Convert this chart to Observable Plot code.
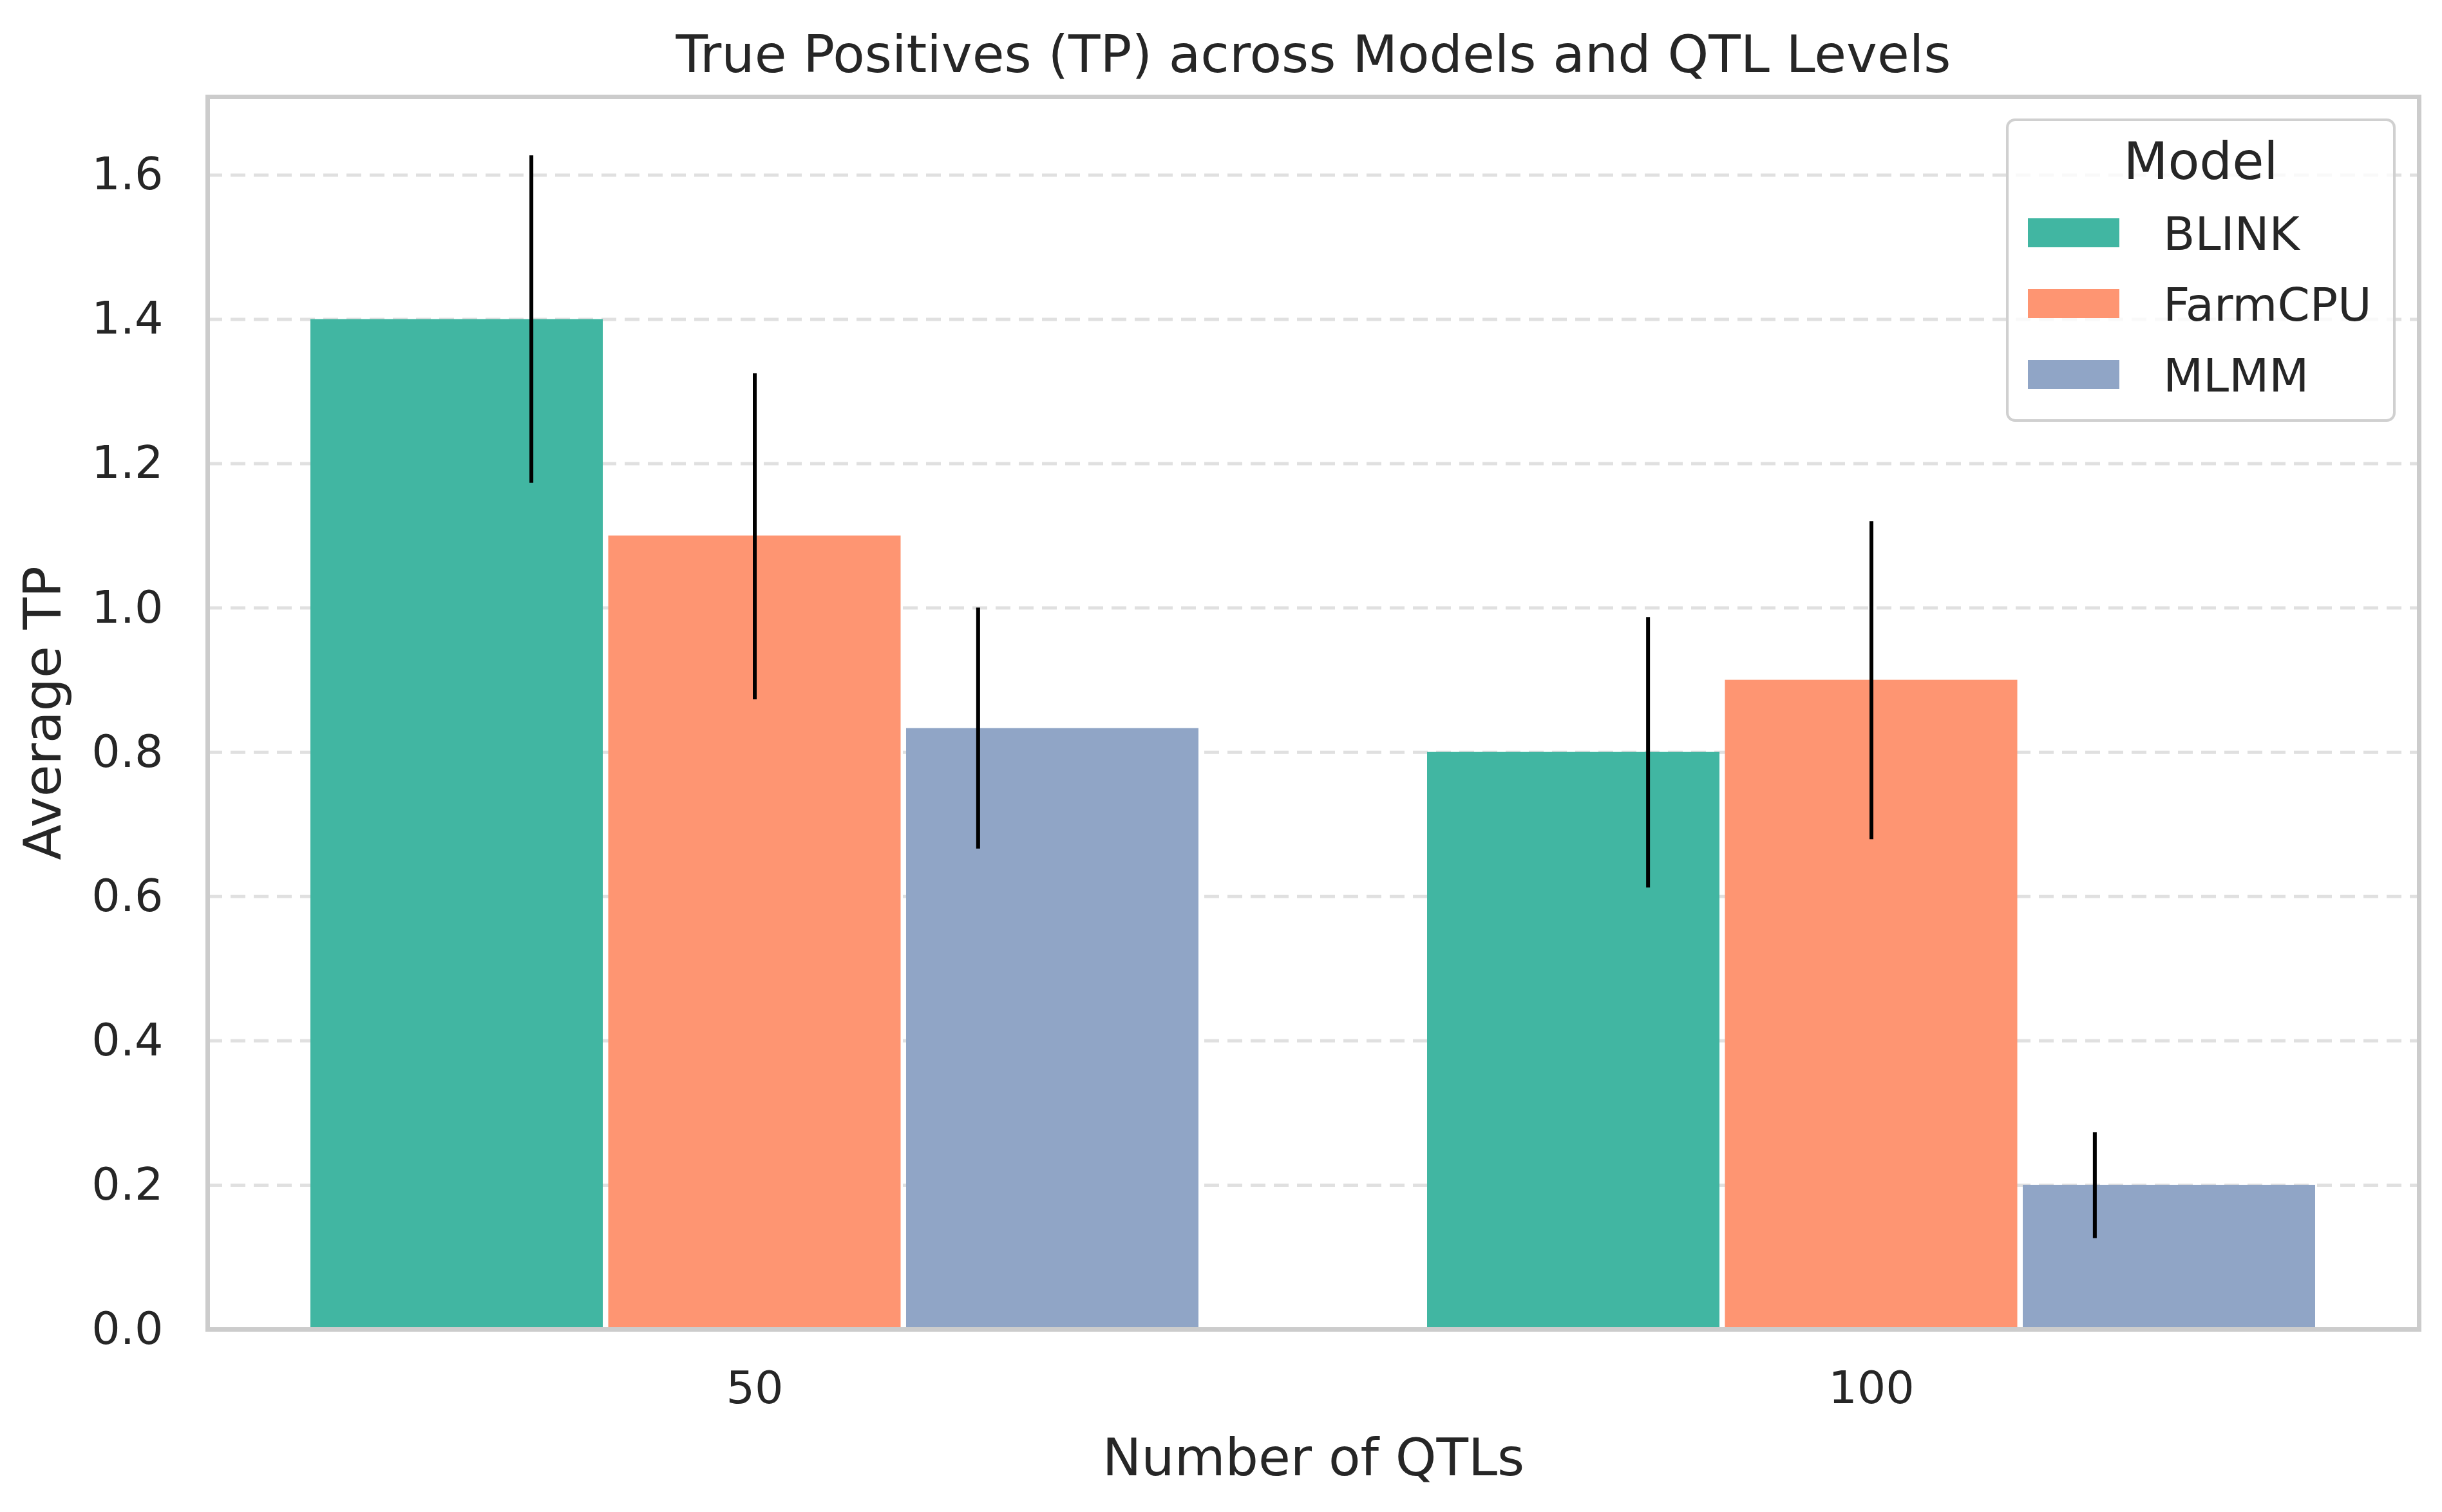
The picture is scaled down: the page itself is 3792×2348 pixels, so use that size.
<!DOCTYPE html>
<html><head><meta charset="utf-8">
<script src="https://cdn.jsdelivr.net/npm/d3@7"></script>
<script src="https://cdn.jsdelivr.net/npm/@observablehq/plot@0.6"></script>
<style>
html,body{margin:0;padding:0;background:#fff;}
#wrap{position:relative;width:3792px;height:2348px;}
#legend{position:absolute;left:0;top:0;pointer-events:none;}
</style></head><body><div id="wrap"></div>
<script>
// ---- data ----
const qtls = ["50", "100"];
const models = ["BLINK", "FarmCPU", "MLMM"];
const modelColors = ["#41b6a2", "#fe9572", "#90a5c6"];
// indexed [model][qtl]
const tpMean = [[1.4, 0.8], [1.1, 0.9], [0.833, 0.2]];
const tpLow  = [[1.173, 0.612], [0.873, 0.679], [0.666, 0.126]];
const tpHigh = [[1.627, 0.987], [1.325, 1.120], [1.0, 0.273]];
const yTicks = [0, 0.2, 0.4, 0.6, 0.8, 1.0, 1.2, 1.4, 1.6];
const titleText = "True Positives (TP) across Models and QTL Levels";
const xLabel = "Number of QTLs";
const yLabel = "Average TP";
const legendTitle = "Model";

const rows = models.flatMap((m, i) => qtls.map((q, j) => ({
  model: m, qtl: q, tp: tpMean[i][j], lo: tpLow[i][j], hi: tpHigh[i][j]
})));

// ---- layout ----
const W = 3792, H = 2348;
const mL = 322, mR = 36, mT = 150, mB = 284;
const padIn = 0.2, padOut = 0.09;
const step = (W - mL - mR) / (qtls.length - padIn + 2 * padOut);
const bandW = step * (1 - padIn);
const barW = bandW / models.length;
const gap = 4;
const errOff = 0.2 * step;
const yMax = d3.max(tpHigh.flat()) * 1.05;
const ink = "#262626";

const marks = [
  Plot.gridY(yTicks, {stroke: "#e0e0e0", strokeOpacity: 1, strokeWidth: 5, strokeDasharray: "23,13"})
];
models.forEach((m, i) => {
  marks.push(Plot.barY(rows.filter(r => r.model === m), {
    x: "qtl", y: "tp", fill: "model",
    insetLeft: gap + i * barW, insetRight: gap + (models.length - 1 - i) * barW
  }));
});
models.forEach((m, i) => {
  marks.push(Plot.ruleX(rows.filter(r => r.model === m), {
    x: "qtl", y1: "lo", y2: "hi", dx: (i - 1) * errOff, stroke: "#000", strokeWidth: 6
  }));
});
marks.push(
  Plot.axisY({ticks: yTicks, tickFormat: d3.format(".1f"), tickSize: 0, tickPadding: 69, label: null, fontSize: 70, fill: ink}),
  Plot.axisX({tickSize: 0, tickPadding: 65, label: null, fontSize: 70, fill: ink}),
  Plot.text([yLabel], {text: d => d, frameAnchor: "left", dx: -229, rotate: -90, textAnchor: "middle", lineAnchor: "bottom", fontSize: 81, fill: ink}),
  Plot.text([xLabel], {text: d => d, frameAnchor: "bottom", dy: 226, textAnchor: "middle", lineAnchor: "bottom", fontSize: 81, fill: ink}),
  Plot.text([titleText], {text: d => d, frameAnchor: "top", dy: -39, textAnchor: "middle", lineAnchor: "bottom", fontSize: 81, fill: ink}),
  Plot.frame({stroke: "#cccccc", strokeWidth: 7})
);

const chart = Plot.plot({
  width: W, height: H,
  marginLeft: mL, marginRight: mR, marginTop: mT, marginBottom: mB,
  style: {fontFamily: "DejaVu Sans", fontSize: "70px", color: ink, background: "white"},
  x: {type: "band", domain: qtls, paddingInner: padIn, paddingOuter: padOut, align: 0.5},
  y: {domain: [0, yMax]},
  color: {domain: models, range: modelColors},
  marks
});
const wrap = document.getElementById("wrap");
wrap.appendChild(chart);

// ---- legend (overlay) ----
const color = chart.scale("color");
const lg = d3.select(wrap).append("svg").attr("id", "legend")
  .attr("width", W).attr("height", H)
  .style("font-family", "DejaVu Sans").style("fill", ink);
const box = {x: 3117, y: 186, w: 601, h: 467};
lg.append("rect").attr("x", box.x).attr("y", box.y).attr("width", box.w).attr("height", box.h)
  .attr("rx", 12).attr("fill", "white").attr("fill-opacity", 0.8)
  .attr("stroke", "#d0d0d0").attr("stroke-width", 4);
lg.append("text").attr("x", box.x + box.w / 2).attr("y", 278).attr("text-anchor", "middle")
  .attr("font-size", 80).attr("fill", ink).text(legendTitle);
models.forEach((m, i) => {
  const sy = 339 + i * 110;
  lg.append("rect").attr("x", 3149).attr("y", sy).attr("width", 142).attr("height", 45)
    .attr("fill", color.apply(m));
  lg.append("text").attr("x", 3359).attr("y", sy + 49).attr("font-size", 72).attr("fill", ink).text(m);
});
</script></body></html>
